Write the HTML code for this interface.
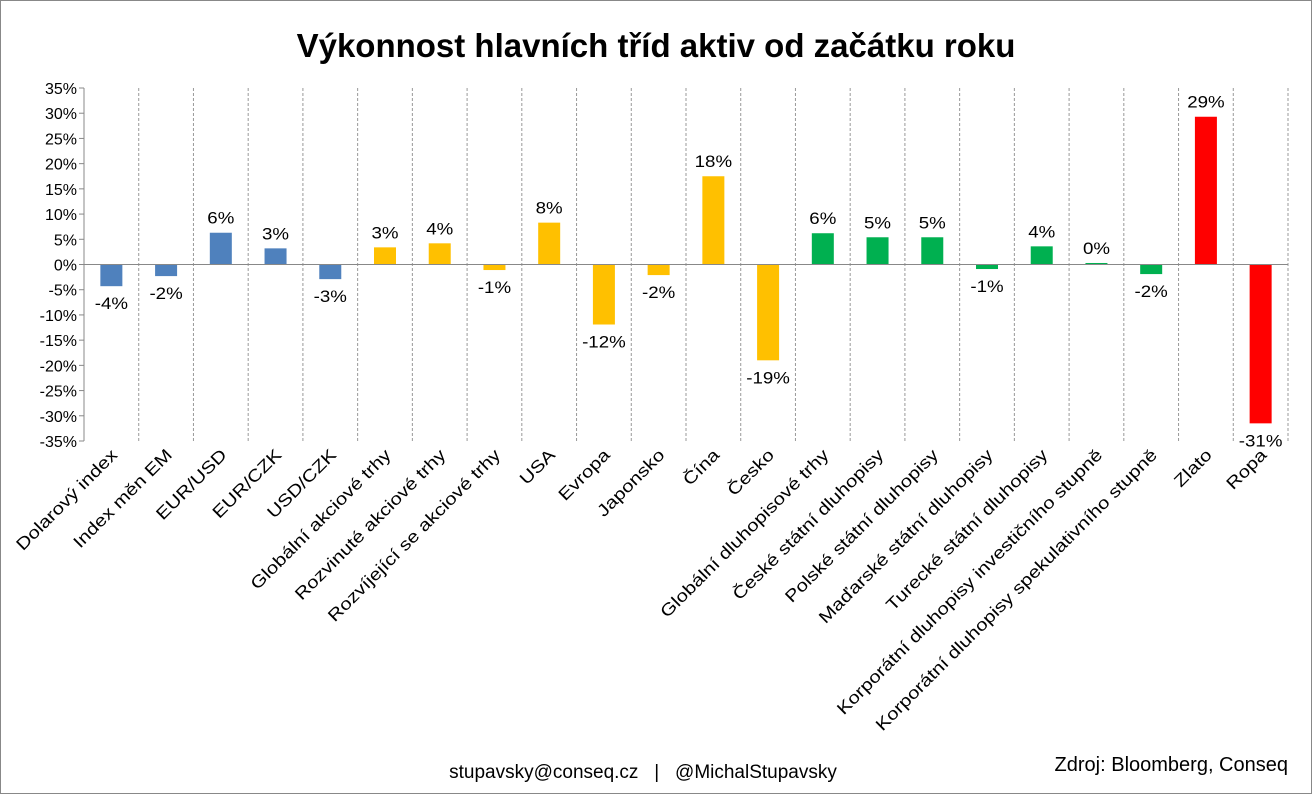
<!DOCTYPE html>
<html><head><meta charset="utf-8"><style>
body{margin:0;background:#fff;}
svg{display:block;font-family:"Liberation Sans",sans-serif;}
</style></head><body>
<svg id="c" width="1312" height="794">
<rect x="0.5" y="0.5" width="1311" height="793" fill="#fff" stroke="#888"/>
<text x="656" y="57" text-anchor="middle" font-size="33" font-weight="bold">Výkonnost hlavních tříd aktiv od začátku roku</text>
<text x="643" y="778" text-anchor="middle" font-size="19" xml:space="preserve" style="white-space:pre">stupavsky@conseq.cz   |   @MichalStupavsky</text>
<text x="1288" y="771" text-anchor="end" font-size="20">Zdroj: Bloomberg, Conseq</text>
<g id="plot"></g>
</svg>
<script>
const categories=["Dolarový index","Index měn EM","EUR/USD","EUR/CZK","USD/CZK","Globální akciové trhy","Rozvinuté akciové trhy","Rozvíjející se akciové trhy","USA","Evropa","Japonsko","Čína","Česko","Globální dluhopisové trhy","České státní dluhopisy","Polské státní dluhopisy","Maďarské státní dluhopisy","Turecké státní dluhopisy","Korporátní dluhopisy investičního stupně","Korporátní dluhopisy spekulativního stupně","Zlato","Ropa"];
const values=[-4.3,-2.3,6.3,3.2,-2.9,3.4,4.2,-1.1,8.3,-11.9,-2.1,17.5,-19.0,6.2,5.4,5.4,-0.9,3.6,0.3,-1.9,29.3,-31.5];
const groups=["fx","fx","fx","fx","fx","eq","eq","eq","eq","eq","eq","eq","eq","bd","bd","bd","bd","bd","bd","bd","cm","cm"];
const yTicks=[35,30,25,20,15,10,5,0,-5,-10,-15,-20,-25,-30,-35];
const colors={fx:"#4F81BD",eq:"#FFC000",bd:"#00B050",cm:"#FF0000"};
const X0=84,X1=1288,Y0=88,Y1=441,YMIN=-35,YMAX=35;
const y=v=>Y0+(YMAX-v)/(YMAX-YMIN)*(Y1-Y0);
const bw=(X1-X0)/categories.length;
const x=i=>X0+bw*(i+0.5);
const g=document.getElementById('plot');
const NS="http://www.w3.org/2000/svg";
function mk(t,a){const e=document.createElementNS(NS,t);for(const k in a)e.setAttribute(k,a[k]);g.appendChild(e);return e;}
for(let i=1;i<=categories.length;i++){
 const l=mk('line',{x1:X0+bw*i,x2:X0+bw*i,y1:Y0,y2:Y1,stroke:'#999','stroke-dasharray':'3,2'});
 
 
}
const ax=mk('line',{x1:X0,x2:X0,y1:Y0,y2:Y1,stroke:'#888'});


yTicks.forEach(t=>{
 const tk=mk('line',{x1:X0-5,x2:X0,y1:y(t),y2:y(t),stroke:'#888'});
 
 
 const tl=mk('text',{x:X0-7,y:y(t)+6,'text-anchor':'end','font-size':16});
 tl.textContent=t+'%';
 
 
});
values.forEach((v,i)=>{
 const b=mk('rect',{x:x(i)-11,width:22,y:Math.min(y(v),y(0)),height:Math.abs(y(v)-y(0)),fill:colors[groups[i]]});
 
 
 const lb=mk('text',{x:x(i),y:v>=0?y(v)-9:y(v)+23,'text-anchor':'middle','font-size':17,transform:`translate(${x(i)},0) scale(1.1,1) translate(${-x(i)},0)`});
 lb.textContent=Math.round(v)+'%';
 
 
 const cl=mk('text',{x:0,y:0,'text-anchor':'end','font-size':17,transform:`translate(${x(i)+7},${456}) rotate(-45) scale(1.2,1)`});
 cl.textContent=categories[i];
 
 
});
const zl=mk('line',{x1:X0,x2:X1,y1:y(0),y2:y(0),stroke:'#888'});


</script>
</body></html>
